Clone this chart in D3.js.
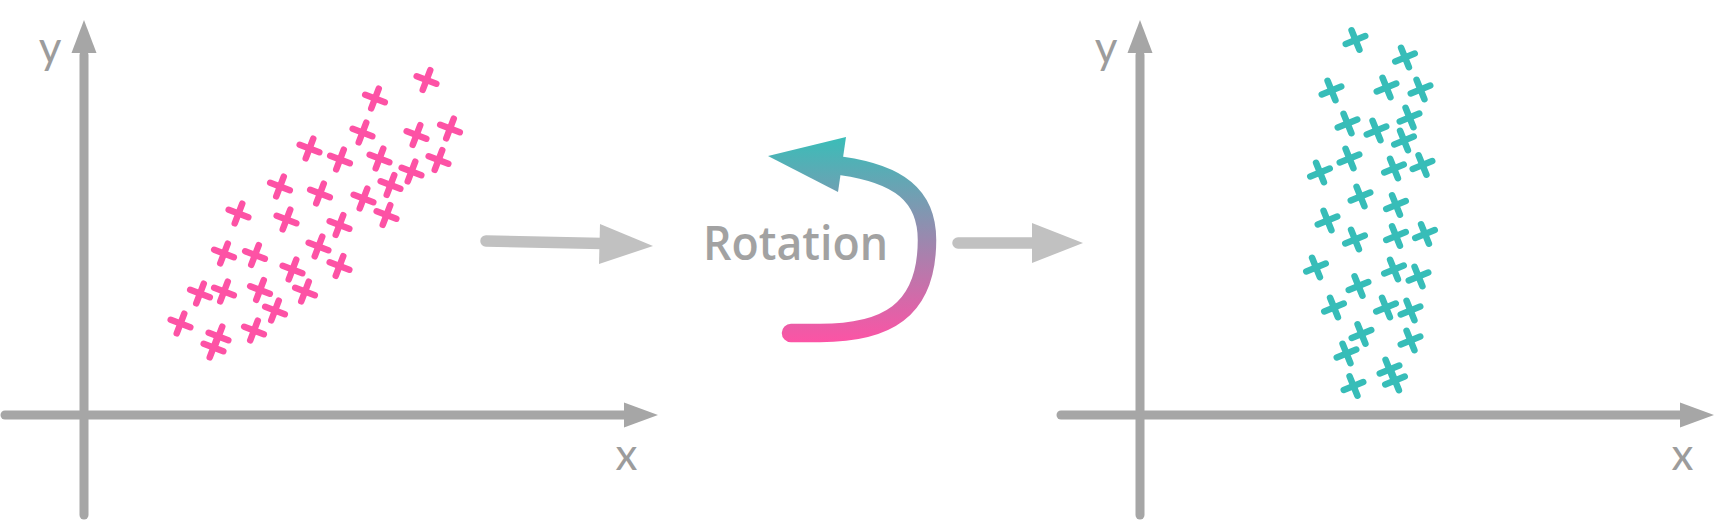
<!DOCTYPE html>
<html>
<head>
<meta charset="utf-8">
<script src="https://cdn.jsdelivr.net/npm/d3@7"></script>
<style>
  html, body { margin: 0; padding: 0; background: #ffffff; }
  svg { display: block; }
</style>
</head>
<body>
<div id="chart"></div>
<script>
// ---- Data (arbitrary units) ----
const beforeX = [6.85, 5.82, 5.57, 6.65, 7.32, 4.51, 5.12, 5.91, 7.09, 6.55, 6.13, 3.92, 4.72, 5.59, 3.09, 4.05,
                 6.05, 5.11, 4.69, 2.80, 3.42, 4.17, 5.11, 2.32, 2.80, 3.52, 4.42, 3.82, 1.93, 3.40, 2.69, 2.59];
const beforeY = [6.70, 6.33, 5.65, 5.60, 5.73, 5.33, 5.11, 5.13, 5.10, 4.87, 4.60, 4.57, 4.43, 4.33, 4.03, 3.91,
                 4.00, 3.80, 3.37, 3.23, 3.20, 2.91, 2.98, 2.43, 2.47, 2.50, 2.47, 2.09, 1.83, 1.69, 1.57, 1.35];
const afterX  = [4.31, 5.30, 3.83, 4.93, 5.61, 4.15, 4.73, 5.39, 5.28, 3.60, 4.19, 5.08, 5.65, 4.41, 5.12, 3.75,
                 4.30, 5.12, 5.70, 3.52, 5.08, 5.57, 4.37, 3.88, 4.92, 5.41, 4.43, 4.13, 5.41, 4.99, 5.10, 4.27];
const afterY  = [7.50, 7.15, 6.49, 6.55, 6.51, 5.83, 5.69, 5.95, 5.49, 4.85, 5.13, 4.93, 5.00, 4.37, 4.20, 3.89,
                 3.51, 3.58, 3.62, 2.95, 2.91, 2.77, 2.58, 2.15, 2.15, 2.09, 1.62, 1.23, 1.49, 0.91, 0.69, 0.58];
const axisLabels = ["x", "y"];
const middleLabel = "Rotation";

// ---- Layout ----
const W = 1722, H = 522;
const AXIS = "#a6a6a6", TEXT = "#9c9c9c", ARROW = "#c1c1c1";
const PINK = "#fd52a5", TEAL = "#37bdb8";

const svg = d3.select("#chart").append("svg").attr("width", W).attr("height", H);

const defs = svg.append("defs");
const grad = defs.append("linearGradient").attr("id", "rotGrad")
  .attr("gradientUnits", "userSpaceOnUse").attr("x1", 0).attr("y1", 343).attr("x2", 0).attr("y2", 137);
grad.append("stop").attr("offset", "0%").attr("stop-color", "#fd53a5");
grad.append("stop").attr("offset", "100%").attr("stop-color", "#3abdb8");

function panel(originX, xs, ys, color, angle) {
  const x = d3.scaleLinear().domain([0, 11.48]).range([originX, originX + 574]);
  const y = d3.scaleLinear().domain([0, 7.9]).range([415, 20]);
  const g = svg.append("g");
  const x0 = x(0), y0 = y(0);
  // x axis
  g.append("line").attr("x1", x(-1.58)).attr("y1", y0).attr("x2", x(10.8)).attr("y2", y0)
    .attr("stroke", AXIS).attr("stroke-width", 9).attr("stroke-linecap", "round");
  g.append("path").attr("d", `M${x(10.8)},${y0 - 12.5}L${x(11.48)},${y0}L${x(10.8)},${y0 + 12.5}Z`).attr("fill", AXIS);
  // y axis
  g.append("line").attr("x1", x0).attr("y1", y(-2.0)).attr("x2", x0).attr("y2", y(7.2))
    .attr("stroke", AXIS).attr("stroke-width", 9).attr("stroke-linecap", "round");
  g.append("path").attr("d", `M${x0 - 12.5},${y(7.24)}L${x0},${y(7.9)}L${x0 + 12.5},${y(7.24)}Z`).attr("fill", AXIS);
  // labels
  g.append("text").attr("x", x(10.85)).attr("y", 470).attr("text-anchor", "middle")
    .attr("font-family", "Lato, 'Open Sans', sans-serif").attr("font-size", 44).attr("fill", TEXT).text(axisLabels[0]);
  g.append("text").attr("x", x0 - 34).attr("y", 63).attr("text-anchor", "middle")
    .attr("font-family", "Lato, 'Open Sans', sans-serif").attr("font-size", 44).attr("fill", TEXT).text(axisLabels[1]);
  // crosses
  const pts = xs.map((v, i) => [v, ys[i]]);
  const c = g.selectAll("g.cross").data(pts).join("g").attr("class", "cross")
    .attr("transform", d => `translate(${x(d[0])},${y(d[1])}) rotate(${angle})`);
  c.append("line").attr("x1", -10.5).attr("x2", 10.5).attr("y1", 0).attr("y2", 0);
  c.append("line").attr("y1", -10.5).attr("y2", 10.5).attr("x1", 0).attr("x2", 0);
  c.selectAll("line").attr("stroke", color).attr("stroke-width", 6.5).attr("stroke-linecap", "round");
}

panel(84, beforeX, beforeY, PINK, 21);
panel(1140, afterX, afterY, TEAL, -22);

// ---- Middle: arrows and rotation symbol ----
const mid = svg.append("g");
mid.append("line").attr("x1", 486).attr("y1", 241).attr("x2", 602).attr("y2", 243.5)
  .attr("stroke", ARROW).attr("stroke-width", 11.5).attr("stroke-linecap", "round");
mid.append("path").attr("d", "M600,224L653,246L599,264Z").attr("fill", ARROW);
mid.append("line").attr("x1", 958).attr("y1", 243).attr("x2", 1034).attr("y2", 243)
  .attr("stroke", ARROW).attr("stroke-width", 11.5).attr("stroke-linecap", "round");
mid.append("path").attr("d", "M1032,223L1083,243L1032,263Z").attr("fill", ARROW);

mid.append("path")
  .attr("d", "M791,333L820,333C885,333,927,312,927,240C927,195,898,174,842,166")
  .attr("fill", "none").attr("stroke", "url(#rotGrad)").attr("stroke-width", 18.5).attr("stroke-linecap", "round");
mid.append("path").attr("d", "M768,156L846,137L838,192Z").attr("fill", "url(#rotGrad)");

mid.append("text").attr("x", 703).attr("y", 260).attr("textLength", 185).attr("lengthAdjust", "spacingAndGlyphs")
  .attr("font-family", "'Open Sans', Lato, sans-serif").attr("font-size", 47).attr("font-weight", 600)
  .attr("fill", "#a2a2a2").text(middleLabel);
</script>
</body>
</html>
